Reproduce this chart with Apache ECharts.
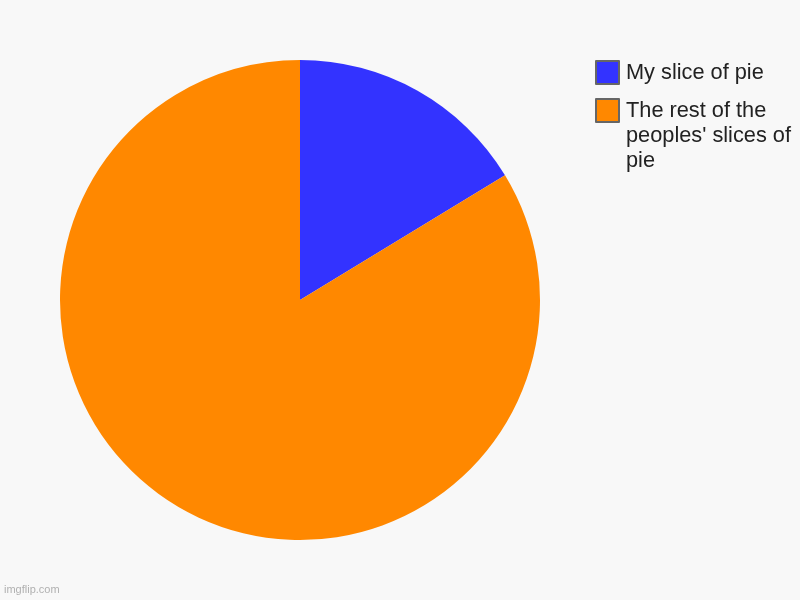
<!DOCTYPE html>
<html>
<head>
<meta charset="utf-8">
<script src="https://cdn.jsdelivr.net/npm/echarts@6/dist/echarts.min.js"></script>
<style>html,body{margin:0;padding:0;background:#f8f8f8;}#c{width:800px;height:600px;}</style>
</head>
<body>
<div id="c"></div>
<script>
var categories = ["My slice of pie", "The rest of the peoples' slices of pie"];
var values = [16.3, 83.7];
var colors = ['#3333ff', '#ff8800'];

var legendText = {
  fontFamily: 'Liberation Sans',
  fontSize: 21.75,
  color: '#222222',
  lineHeight: 25,
  width: 178,
  overflow: 'break',
  padding: [0, 0, 0, 2]
};
function makeLegend(idx, top) {
  return {
    orient: 'vertical',
    left: 595,
    top: top,
    padding: 0,
    itemWidth: 23,
    itemHeight: 23,
    icon: 'rect',
    itemStyle: { borderColor: '#666666', borderWidth: 2 },
    textStyle: legendText,
    formatter: function (name) { return idx === 1 ? '\n\n' + name : name; },
    data: [categories[idx]]
  };
}

var chart = echarts.init(document.getElementById('c'));
chart.setOption({
  backgroundColor: '#f8f8f8',
  animation: false,
  color: colors,
  legend: [makeLegend(0, 60), makeLegend(1, 48)],
  graphic: [{
    type: 'text',
    left: 4,
    top: 584,
    style: { text: 'imgflip.com', fill: '#b0b0b0', fontSize: 11, fontFamily: 'Liberation Sans' }
  }],
  series: [{
    type: 'pie',
    center: [300, 300],
    radius: [0, 240],
    startAngle: 90,
    clockwise: true,
    label: { show: false },
    labelLine: { show: false },
    emphasis: { disabled: true },
    itemStyle: { borderWidth: 0 },
    data: categories.map(function (c, i) { return { name: c, value: values[i] }; })
  }]
});
</script>
</body>
</html>
